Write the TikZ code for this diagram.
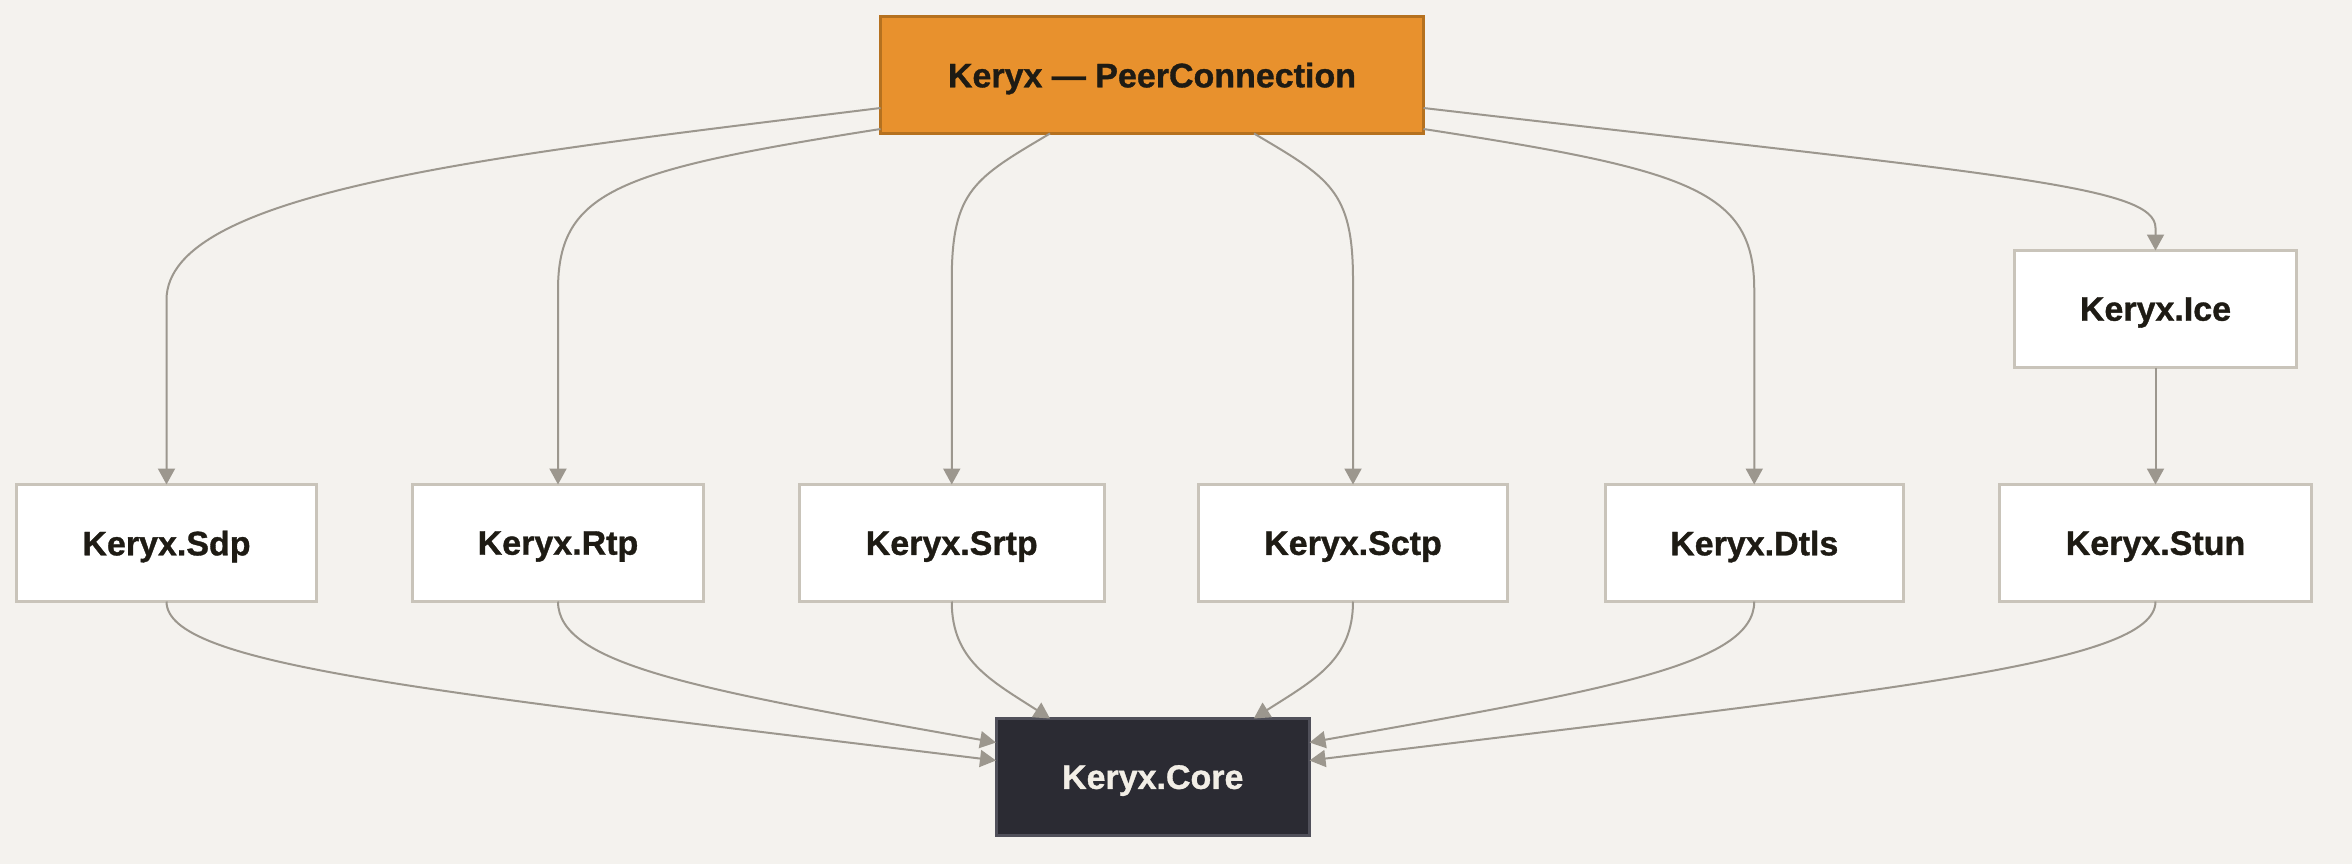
\documentclass[tikz,border=0pt]{standalone}
\usepackage{fontspec}
\setmainfont{Liberation Sans}[BoldFeatures={FakeBold=1}]
\usetikzlibrary{arrows.meta,calc}
\definecolor{bg}{HTML}{F4F2EE}
\definecolor{orangefill}{HTML}{E8912D}
\definecolor{orangeline}{HTML}{B5711F}
\definecolor{textdark}{HTML}{1E1B14}
\definecolor{corefill}{HTML}{2B2B33}
\definecolor{coreline}{HTML}{50505A}
\definecolor{coretext}{HTML}{F2EEE6}
\definecolor{boxline}{HTML}{C9C4BA}
\definecolor{edgecol}{HTML}{9C978E}
\begin{document}
\begin{tikzpicture}[x=1pt,y=-1pt,
  basebox/.style={line width=3pt, minimum height=117pt, inner sep=0pt, outer sep=0pt,
    text depth=0pt, font=\bfseries\fontsize{34}{40}\selectfont},
  modbox/.style={basebox, draw=boxline, fill=white, text=textdark},
  topbox/.style={basebox, draw=orangeline, fill=orangefill, text=textdark},
  corebox/.style={basebox, draw=coreline, fill=corefill, text=coretext},
  conn/.style={draw=edgecol, line width=2pt, -{Triangle[length=16pt,width=17pt]}}]
\fill[bg] (0,0) rectangle (2352,864);
\useasboundingbox (0,0) rectangle (2352,864);

\node[topbox, minimum width=543pt] (pc) at (1152,75) {Keryx — PeerConnection};
\node[modbox, minimum width=282pt] (ice) at (2155.5,309) {Keryx.Ice};

\node[modbox, minimum width=300pt] (sdp) at (166.5,543) {Keryx.Sdp};
\node[modbox, minimum width=291pt] (rtp) at (558,543) {Keryx.Rtp};
\node[modbox, minimum width=304.5pt] (srtp) at (951.75,543) {Keryx.Srtp};
\node[modbox, minimum width=309pt] (sctp) at (1353,543) {Keryx.Sctp};
\node[modbox, minimum width=298.5pt] (dtls) at (1754.25,543) {Keryx.Dtls};
\node[modbox, minimum width=312pt] (stun) at (2155.5,543) {Keryx.Stun};

\node[corebox, minimum width=313.5pt] (core) at (1152.75,777) {Keryx.Core};

% top edges
\draw[conn] ($(pc.west)+(0,33)$) .. controls (500,155) and (166.5,190) .. (166.5,300) -- (sdp.north);
\draw[conn] ($(pc.west)+(0,54)$) .. controls (620,170) and (558,190) .. (558,290) -- (rtp.north);
\draw[conn] ($(pc.south)+(-102,0)$) .. controls (975,178) and (951.75,190) .. (951.75,280) -- (srtp.north);
\draw[conn] ($(pc.south)+(102,0)$) .. controls (1329,178) and (1353,190) .. (1353,280) -- (sctp.north);
\draw[conn] ($(pc.east)+(0,54)$) .. controls (1690,170) and (1754.25,190) .. (1754.25,290) -- (dtls.north);
\draw[conn] ($(pc.east)+(0,33)$) .. controls (2000,175) and (2155.5,185) .. (2155.5,228) -- (ice.north);
\draw[conn] (ice.south) -- (stun.north);

% bottom edges
\draw[conn] (sdp.south) .. controls (166.5,665) and (420,690) .. ($(core.west)+(0,-16.5)$);
\draw[conn] (rtp.south) .. controls (558,665) and (700,690) .. ($(core.west)+(0,-34.5)$);
\draw[conn] (srtp.south) .. controls (951.75,660) and (990,680) .. ($(core.north)+(-102.75,0)$);
\draw[conn] (sctp.south) .. controls (1353,660) and (1314,680) .. ($(core.north)+(101,0)$);
\draw[conn] (dtls.south) .. controls (1754.25,665) and (1605,690) .. ($(core.east)+(0,-34.5)$);
\draw[conn] (stun.south) .. controls (2155.5,665) and (1885,690) .. ($(core.east)+(0,-16.5)$);
\end{tikzpicture}
\end{document}
